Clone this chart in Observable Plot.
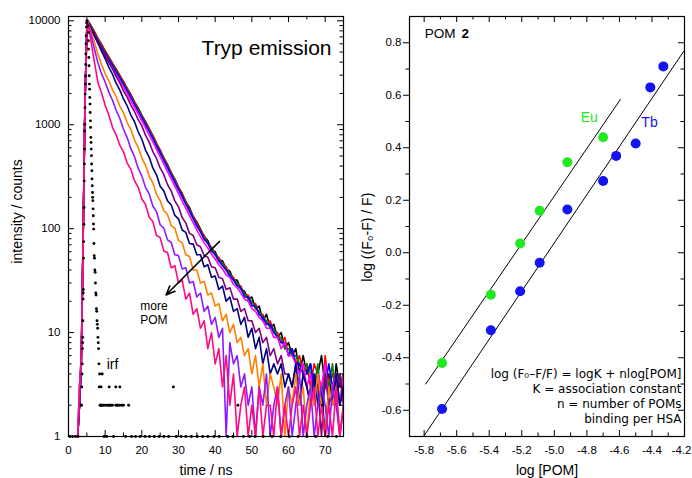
<!DOCTYPE html>
<html><head><meta charset="utf-8">
<script src="https://cdn.jsdelivr.net/npm/d3@7"></script>
<script src="https://cdn.jsdelivr.net/npm/@observablehq/plot@0.6"></script>
<style>
html,body{margin:0;padding:0;background:#fff;}
#wrap{display:flex;width:692px;height:478px;overflow:hidden;}
</style></head><body><div id="wrap"></div>
<script>
// ---------- LEFT PANEL DATA: Tryp emission decays ----------
const times = [2.5,3,3.5,4,4.5,5,5.2,
  6,7,8,9,10,11,12,13,14,15,16,17,18,19,20,21,22,23,24,25,26,27,28,29,30,31,32,33,34,35,
  36,37,38,39,40,41,42,43,44,45,46,47,48,49,50,51,52,53,54,55,56,57,58,59,60,61,62,63,64,65,
  66,67,68,69,70,71,72,73,74,75];

const blackCounts = [1,2,5,82,1620,8250,10050,
  9150,7950,6780,5960,5120,4500,3890,3420,2980,2590,
  2240,1950,1660,1450,1230,1070,915,790,662,571,
  480,414,346,300,251,218,181,160,131,116,
  99,84,77,63,60,50,49,41,39,32,
  32,26,25,21,22,17,18,13,15,11,
  12,9,10,7,8,6,7,4,6,4,
  5,3,4,6,3,4,2,5,3,4];
const redCounts = [1,2,6,86,1680,8350,10000,
  9080,7860,6720,5880,5090,4440,3880,3370,2950,2560,
  2230,1920,1650,1430,1225,1060,905,775,660,562,
  476,407,345,294,250,213,183,153,132,113,
  96,86,72,67,56,53,45,43,36,34,
  29,28,23,23,19,19,15,15,12,13,
  10,10,8,9,6,7,5,6,4,5,
  3,5,4,2,6,3,4,3,2,4];
const greenCounts = [1,2,5,80,1600,8200,9980,
  8820,7620,6540,5690,4950,4300,3760,3270,2870,2480,
  2170,1860,1600,1390,1190,1025,880,752,640,545,
  462,395,336,284,243,206,177,148,128,108,
  94,82,73,63,57,49,47,40,37,32,
  30,26,24,21,20,17,16,14,13,11,
  11,9,9,7,7,6,6,5,4,5,
  4,3,5,2,4,3,5,2,4,3];
const blueCounts = [1,3,6,90,1700,8400,10000,
  8640,7470,6400,5580,4850,4220,3690,3200,2810,2430,
  2120,1820,1570,1360,1165,1005,862,737,626,533,
  455,386,329,279,238,203,172,147,125,106,
  93,79,72,61,56,49,44,40,35,32,
  28,27,22,22,18,18,15,14,12,12,
  10,9,8,8,6,7,5,5,4,4,
  5,3,4,2,3,5,3,4,2,3];
const magentaCounts = [1,2,5,84,1640,8300,9950,
  8350,7180,6120,5320,4610,4000,3490,3030,2650,2290,
  2000,1710,1470,1270,1090,935,800,684,580,492,
  418,354,301,256,217,184,157,133,114,97,
  84,73,65,57,51,45,41,36,34,29,
  27,24,21,20,17,16,14,13,11,11,
  9,9,7,8,6,6,5,4,5,3,
  4,2,4,3,5,2,3,4,2,4];
const purpleCounts = [1,2,5,83,1620,8280,10000,
  8800,7510,6460,5470,4710,3990,3440,2900,2520,2110,
  1840,1545,1340,1120,975,795,680,552,474,384,
  331,266,231,185,162,128,113,90,86,70,
  67,55,53,43,42,34,33,26,27,21,
  21,16,17,13,13,10,11,8,9,6,
  7,5,6,4,4,3,5,2,4,3,
  2,4,3,1,4,2,3,2,4,2];
const navyCounts = [1,2,6,88,1660,8320,10020,
  8700,7260,6140,5100,4330,3580,3060,2510,2150,1770,
  1520,1240,1070,856,725,571,489,384,330,256,
  230,185,170,134,124,97,92,72,71,56,
  56,43,45,34,35,26,28,20,22,16,
  17,12,14,9,11,7,9,5,7,4,
  5,4,5,3,4,3,5,2,4,3,
  2,4,2,3,1,3,2,4,2,3];
const orangeCounts = [1,3,5,85,1650,8250,9990,
  8120,6340,4850,3810,3110,2650,2170,1860,1510,1300,
  1050,899,712,608,478,409,320,276,214,186,
  149,137,107,101,77,73,56,54,40,40,
  30,31,23,24,18,19,13,15,10,12,
  8,9,6,7,4,6,3,5,2,4,
  3,2,4,1,3,2,4,2,3,1,
  3,2,4,2,1,3,2,3,1,2];
const violetCounts = [1,2,6,92,1720,8450,10000,
  7700,5480,3980,3100,2580,2060,1720,1370,1150,905,
  752,588,493,381,322,250,216,165,146,109,
  101,78,74,56,55,41,42,30,31,22,
  24,16,18,12,14,9,11,1,8,5,
  6,3,4,2,3,1,3,2,4,1,
  2,3,1,2,3,1,2,4,1,2,
  3,1,2,3,2,1,3,2,1,2];
const pinkCounts = [1,3,6,95,1800,8600,10000,
  6760,4170,2570,2030,1540,1240,945,800,636,548,
  428,372,289,251,193,172,129,117,86,82,
  61,59,42,44,30,32,21,24,15,17,
  11,13,7,10,5,7,3,6,2,4,
  1,2,3,1,2,1,3,1,2,2,
  1,3,1,2,1,2,3,1,2,1,
  2,3,1,2,1,2,1,3,1,2];

const seriesNames  = ["black","red","green","blue","magenta","purple","navy","orange","violet","pink"];
const seriesColors = ["#000000","#ff0000","#008000","#0000ff","#ff00ff","#800080","#000080","#ff8000","#8a1cff","#ff0a84"];
const seriesCounts = [blackCounts,redCounts,greenCounts,blueCounts,magentaCounts,purpleCounts,navyCounts,orangeCounts,violetCounts,pinkCounts];

// instrument response function (irf) dots
const irfT = [3.45,3.55,3.6,3.68,3.74,3.8,3.84,3.88,3.93,3.98,4.0,4.03,4.08,4.13,4.18,4.23,4.28,4.33,4.37,4.41,
  4.45,4.5,4.55,4.6,4.64,4.68,4.73,4.78,4.83,4.88,4.95,5.05,
  5.31,5.37,5.42,5.48,5.53,5.59,5.64,5.7,5.76,5.81,5.87,5.92,5.98,6.03,6.09,6.15,6.2,6.26,6.31,6.37,
  6.42,6.48,6.54,6.59,6.65,6.7,6.76,6.81,6.87,
  6.93,7.01,7.1,7.18,7.27,7.35,7.44,7.52,7.61,7.69,7.78,7.86,7.95,8.03,8.12,8.2,8.29];
const irfC = [2,2,3,4,5,7,8,9,13,21,24,26,52,75,110,160,288,420,583,870,
  1010,1460,1970,2460,2950,3800,4800,6000,7200,8700,9600,10000,
  8950,7720,6420,5340,4440,3690,2960,2460,2200,1830,1580,1310,1090,942,755,676,583,504,419,361,
  301,259,223,200,186,155,133,111,99,
  72,55,52,40,38,30,24,23,17,16,13,12,11,9,8,7,5];
const irfTail4 = [8.5,9.2];
const irfTail3 = [8.4,8.9,11.1,12.9,14.0,28.6];
const irfTail2 = [8.6,8.8,9.0,9.3,9.6,10.1,10.6,11.0,11.3,11.6,12.0,12.9,13.2,13.5,14.0,14.6,15.0,16.4,46.2,69.3];
const irfTail1 = [0.4,1.1,1.9,2.6,9.7,10.4,12.3,15.6,17.2,18.3,19.5,20.9,22.1,23.4,24.7,26.0,27.3,29.4,30.7,32.0,
  33.5,35.1,36.6,38.0,39.7,41.1,43.4,44.9,47.7,49.4,50.9,53.1,55.5,57.9,60.2,62.6,65.0,67.4,70.7,73.1];

const leftXTicks = [0,10,20,30,40,50,60,70];
const leftXMinor = [5,15,25,35,45,55,65,75];
const leftYTicks = [1,10,100,1000,10000];
const leftYMinor = [2,3,4,5,6,7,8,9,20,30,40,50,60,70,80,90,200,300,400,500,600,700,800,900,2000,3000,4000,5000,6000,7000,8000,9000];

const arrowSpec = [{x1: 41.2, y1: 75.5, x2: 26.6, y2: 23.0}];
const leftNotes = [{t: 10.4, c: 5.0, text: "irf", size: 14, anchor: "start"},
                   {t: 23.3, c: 15.7, text: "more\nPOM", size: 12, anchor: "middle"}];

// ---------- RIGHT PANEL DATA ----------
const euX = [-5.69,-5.39,-5.21,-5.09,-4.92,-4.70];
const euY = [-0.42,-0.16,0.035,0.16,0.345,0.44];
const tbX = [-5.69,-5.39,-5.21,-5.09,-4.92,-4.70,-4.62,-4.50,-4.41,-4.33];
const tbY = [-0.595,-0.295,-0.147,-0.038,0.165,0.273,0.369,0.416,0.63,0.71];
const euFitX = [-5.79,-4.594];
const euFitY = [-0.50,0.584];
const tbFitX = [-5.82,-4.19];
const tbFitY = [-0.715,0.781];
const rightXTicks = [-5.8,-5.6,-5.4,-5.2,-5.0,-4.8,-4.6,-4.4];
const rightXEdgeTick = [-4.2];
const rightXMinor = [-5.7,-5.5,-5.3,-5.1,-4.9,-4.7,-4.5,-4.3];
const rightYTicks = [-0.6,-0.4,-0.2,0.0,0.2,0.4,0.6,0.8];
const rightYMinor = [-0.5,-0.3,-0.1,0.1,0.3,0.5,0.7];
const euColor = "#22e822", tbColor = "#1414f0";
const seriesLabels = [{x: -4.785, y: 0.515, text: "Eu", color: euColor},
                      {x: -4.415, y: 0.498, text: "Tb", color: tbColor}];
const equationLines = ["log (F\u2080\u2013F/F) = logK + nlog[POM]", "K = association constant", "n = number of POMs", "binding per HSA"];

// ---------- BUILD ----------
const H = 478, MT = 16, MB = 42, FH = H - MT - MB, FW = 275;
const MAJ = 6, MIN = 3.5;
const sans = "'Liberation Sans', Arial, Helvetica, sans-serif";

const curves = seriesNames.map((name, k) => ({
  color: seriesColors[k],
  data: times.map((t, i) => ({t, c: seriesCounts[k][i]}))
}));
const irf = irfT.map((t, i) => ({t, c: irfC[i]}))
  .concat(irfTail4.map(t => ({t, c: 4})), irfTail3.map(t => ({t, c: 3})),
          irfTail2.map(t => ({t, c: 2})), irfTail1.map(t => ({t, c: 1})));

function frameTicks(xMaj, xMin, yMaj, yMin) {
  const m = [];
  for (const [vals, len] of [[xMaj, MAJ], [xMin, MIN]]) {
    m.push(Plot.tickX(vals, {x: d => d, insetTop: FH - len, stroke: "black", strokeWidth: 1}));
    m.push(Plot.tickX(vals, {x: d => d, insetBottom: FH - len, stroke: "black", strokeWidth: 1}));
  }
  if (yMaj) {
    for (const [vals, len] of [[yMaj, MAJ], [yMin, MIN]]) {
      m.push(Plot.tickY(vals, {y: d => d, insetRight: FW - len, stroke: "black", strokeWidth: 1}));
      m.push(Plot.tickY(vals, {y: d => d, insetLeft: FW - len, stroke: "black", strokeWidth: 1}));
    }
  }
  return m;
}

const left = Plot.plot({
  width: 346, height: H, marginLeft: 68, marginRight: 3, marginTop: MT, marginBottom: MB,
  style: {fontFamily: sans, fontSize: "11.5px", background: "white", color: "black"},
  x: {domain: [0, 75]},
  y: {type: "log", domain: [1, 11000]},
  marks: [
    ...curves.map(c => Plot.line(c.data, {x: "t", y: "c", stroke: c.color, strokeWidth: 1.6, clip: true})),
    Plot.dot(irf, {x: "t", y: "c", r: 1.45, fill: "black"}),
    Plot.arrow(arrowSpec, {x1: "x1", y1: "y1", x2: "x2", y2: "y2", stroke: "black", strokeWidth: 1.6, headLength: 9, headAngle: 45}),
    Plot.text(leftNotes, {x: "t", y: "c", text: "text", fontSize: 14, textAnchor: "start", lineAnchor: "middle", lineHeight: 1.2, filter: d => d.anchor === "start"}),
    Plot.text(leftNotes, {x: "t", y: "c", text: "text", fontSize: 12, textAnchor: "middle", lineAnchor: "middle", lineHeight: 1.2, filter: d => d.anchor === "middle"}),
    Plot.text(["Tryp emission"], {text: d => d, frameAnchor: "top-right", dx: -12, dy: 32, textAnchor: "end", lineAnchor: "middle", fontSize: 21}),
    Plot.frame({stroke: "black", strokeWidth: 1.2}),
    ...frameTicks(leftXTicks, leftXMinor, leftYTicks, leftYMinor),
    Plot.axisX({ticks: leftXTicks, tickSize: 0, tickPadding: 9, tickFormat: d => String(d), label: null}),
    Plot.axisY({ticks: leftYTicks, tickSize: 0, tickPadding: 8, tickFormat: d => String(d), label: null}),
    Plot.text(["time / ns"], {text: d => d, frameAnchor: "bottom", dy: 34, textAnchor: "middle", lineAnchor: "middle", fontSize: 14}),
    Plot.text(["intensity / counts"], {text: d => d, frameAnchor: "left", dx: -51, dy: -15, rotate: -90, textAnchor: "middle", lineAnchor: "middle", fontSize: 14})
  ]
});

const right = Plot.plot({
  width: 346, height: H, marginLeft: 63, marginRight: 8, marginTop: MT, marginBottom: MB,
  style: {fontFamily: sans, fontSize: "11.5px", background: "white", color: "black"},
  x: {domain: [-5.89, -4.2]},
  y: {domain: [-0.7, 0.9]},
  marks: [
    Plot.line(euFitX.map((x, i) => ({x, y: euFitY[i]})), {x: "x", y: "y", stroke: "black", strokeWidth: 1, clip: true}),
    Plot.line(tbFitX.map((x, i) => ({x, y: tbFitY[i]})), {x: "x", y: "y", stroke: "black", strokeWidth: 1, clip: true}),
    Plot.dot(euX.map((x, i) => ({x, y: euY[i]})), {x: "x", y: "y", r: 5, fill: euColor}),
    Plot.dot(tbX.map((x, i) => ({x, y: tbY[i]})), {x: "x", y: "y", r: 5, fill: tbColor}),
    Plot.text(seriesLabels, {x: "x", y: "y", text: "text", fill: "color", fontSize: 14, textAnchor: "middle", lineAnchor: "middle"}),
    Plot.text(["POM"], {text: d => d, frameAnchor: "top-left", dx: 15.3, dy: 17.3, textAnchor: "start", lineAnchor: "middle", fontSize: 13.5}),
    Plot.text(["2"], {text: d => d, frameAnchor: "top-left", dx: 52, dy: 17.3, textAnchor: "start", lineAnchor: "middle", fontSize: 13.5, fontWeight: "bold"}),
    Plot.text([equationLines.join("\n")], {text: d => d, frameAnchor: "bottom-right", dx: -3, dy: -40.7, textAnchor: "end", lineAnchor: "middle", lineHeight: 1.225, fontFamily: "'DejaVu Sans', sans-serif", fontSize: 12}),
    Plot.frame({stroke: "black", strokeWidth: 1.2}),
    ...frameTicks(rightXTicks.concat(rightXEdgeTick), rightXMinor, null, null),
    Plot.tickY(rightYTicks, {y: d => d, insetLeft: FW - MAJ, stroke: "black", strokeWidth: 1}),
    Plot.tickY(rightYMinor, {y: d => d, insetLeft: FW - MIN, stroke: "black", strokeWidth: 1}),
    Plot.axisY({ticks: rightYTicks, tickSize: 6, tickPadding: 2, tickFormat: d => d.toFixed(1), label: null}),
    Plot.axisY({ticks: rightYMinor, tickSize: 3.5, tickPadding: 2, tickFormat: () => "", label: null}),
    Plot.axisX({ticks: rightXTicks, tickSize: 0, tickPadding: 9, tickFormat: d => d.toFixed(1), label: null}),
    Plot.axisX({ticks: rightXEdgeTick, tickSize: 0, tickPadding: 9, dx: -3, tickFormat: d => d.toFixed(1), label: null}),
    Plot.text(["log [POM]"], {text: d => d, frameAnchor: "bottom", dy: 34, textAnchor: "middle", lineAnchor: "middle", fontSize: 14}),
    Plot.text(["log ((F\u2080-F) / F)"], {text: d => d, frameAnchor: "left", dx: -42, dy: 10.7, rotate: -90, textAnchor: "middle", lineAnchor: "middle", fontSize: 14})
  ]
});

const wrap = document.getElementById("wrap");
wrap.appendChild(left);
wrap.appendChild(right);
</script>
</body></html>
